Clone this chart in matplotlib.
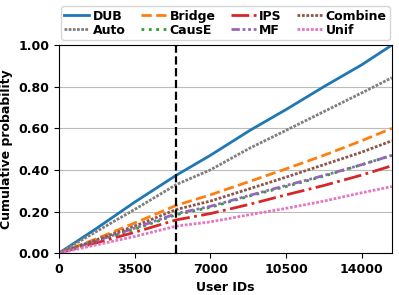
import numpy as np
import matplotlib
matplotlib.use('Agg')
import matplotlib.pyplot as plt

plt.rcParams['font.family'] = ['DejaVu Sans']
plt.rcParams['font.weight'] = 'bold'
plt.rcParams['axes.labelweight'] = 'bold'

# user id positions where curves were read
user_ids = [0, 1750, 3500, 5435, 7000, 8830, 10500, 12250, 14000, 15400]

dub = [0, 0.120, 0.245, 0.375, 0.470, 0.590, 0.690, 0.800, 0.905, 1.000]
auto = [0, 0.105, 0.210, 0.330, 0.400, 0.505, 0.590, 0.680, 0.770, 0.843]
bridge = [0, 0.070, 0.145, 0.230, 0.280, 0.345, 0.405, 0.470, 0.540, 0.600]
combine = [0, 0.065, 0.130, 0.210, 0.250, 0.310, 0.365, 0.425, 0.485, 0.540]
causE = [0, 0.058, 0.115, 0.185, 0.220, 0.275, 0.320, 0.370, 0.425, 0.470]
mf = [0, 0.060, 0.120, 0.190, 0.225, 0.278, 0.325, 0.373, 0.425, 0.470]
ips = [0, 0.050, 0.100, 0.160, 0.190, 0.235, 0.280, 0.325, 0.375, 0.420]
unif = [0, 0.040, 0.080, 0.130, 0.150, 0.185, 0.215, 0.250, 0.290, 0.320]

split_id = 5435

fig, ax = plt.subplots(figsize=(3.99, 2.95), dpi=100)
ax.plot(user_ids, dub, color='tab:blue', ls='-', lw=2, label='DUB')
ax.plot(user_ids, auto, color='tab:gray', ls=(0, (1, 0.5)), lw=2, label='Auto')
ax.plot(user_ids, bridge, color='tab:orange', ls='--', lw=2, label='Bridge')
ax.plot(user_ids, causE, color='tab:green', ls=':', lw=2, label='CausE')
ax.plot(user_ids, ips, color='tab:red', ls='-.', lw=2, label='IPS')
ax.plot(user_ids, mf, color='tab:purple', ls=(0, (3, 1, 1, 1, 1, 1)), lw=2, label='MF')
ax.plot(user_ids, combine, color='tab:brown', ls=(0, (1, 0.6)), lw=2, label='Combine')
ax.plot(user_ids, unif, color='tab:pink', ls=(0, (1, 0.6)), lw=2, label='Unif')
ax.axvline(split_id, color='black', ls='--', lw=1.6)

ax.set_xlim(0, 15400)
ax.set_ylim(0, 1.0)
ax.set_xticks([0, 3500, 7000, 10500, 14000])
ax.set_yticks([0, 0.2, 0.4, 0.6, 0.8, 1.0])
ax.set_yticklabels(['%.2f' % v for v in [0, 0.2, 0.4, 0.6, 0.8, 1.0]])
ax.yaxis.grid(True, color='#bbbbbb', lw=0.8)
ax.set_axisbelow(True)
ax.tick_params(labelsize=9)
ax.set_xlabel('User IDs', fontsize=9)
ax.set_ylabel('Cumulative probability', fontsize=9)

ax.legend(ncol=4, loc='lower center', bbox_to_anchor=(0.5, 0.995),
          handlelength=2.0, columnspacing=1.2, handletextpad=0.3, labelspacing=0.1,
          borderpad=0.25, prop={'weight': 'bold', 'size': 9})

plt.subplots_adjust(left=0.148, right=0.982, top=0.847, bottom=0.142)
plt.savefig('out.png', dpi=100)
